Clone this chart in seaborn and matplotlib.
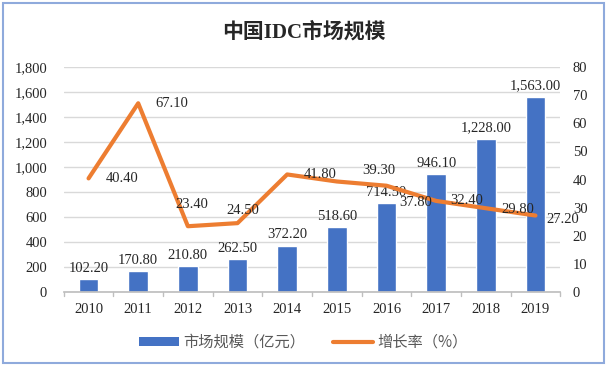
import matplotlib
matplotlib.use("Agg")
import matplotlib.pyplot as plt
import seaborn as sns
import numpy as np
import pandas as pd
from matplotlib.patches import Rectangle, Patch
from matplotlib.lines import Line2D

years = ["2010", "2011", "2012", "2013", "2014", "2015", "2016", "2017", "2018", "2019"]
market = [102.2, 170.8, 210.8, 262.5, 372.2, 518.6, 714.5, 946.1, 1228.0, 1563.0]
growth = [40.4, 67.1, 23.4, 24.5, 41.8, 39.3, 37.8, 32.4, 29.8, 27.2]
left_ticks = list(range(0, 1801, 200))
right_ticks = list(range(0, 81, 10))
title = "中国IDC市场规模"
bar_name = "市场规模（亿元）"
line_name = "增长率（%）"

# label offsets (points) for growth labels
g_off = [(24, 0), (24, 0), (3, 16), (4, 9), (24, 0), (30, 8), (21, -12), (22, 0), (23, -1), (20, -3)]

sns.set_theme(style="white")
plt.rcParams['font.family'] = ['Liberation Serif', 'Noto Sans CJK SC', 'DejaVu Sans']

blue = "#4472C4"
orange = "#ED7D31"

fig = plt.figure(figsize=(6.07, 3.66), dpi=100)
ax = fig.add_axes([0.105, 0.202, 0.818, 0.615])
df = pd.DataFrame({"year": years, "market": market, "growth": growth})
sns.barplot(data=df, x="year", y="market", color=blue, width=0.4, ax=ax, saturation=1)
ax.set_ylim(0, 1800)
ax.set_yticks(left_ticks)
ax.set_yticklabels([f"{t:,}" for t in left_ticks], fontsize=10.5)
ax.set_xlim(-0.5, len(years) - 0.5)
ax.set_xlabel("")
ax.set_ylabel("")
ax.grid(axis="y", color="#D9D9D9", lw=1)
ax.set_axisbelow(True)
for s in ["left", "right", "top"]:
    ax.spines[s].set_visible(False)
ax.spines["bottom"].set_color("#BFBFBF")
ax.tick_params(axis="x", length=0, labelsize=10.5, pad=8)
ax.tick_params(axis="y", length=0, pad=12)
for b in np.arange(-0.5, len(years), 1.0):
    ax.plot([b, b], [0, -0.018], transform=ax.get_xaxis_transform(), color="#BFBFBF", lw=1, clip_on=False)
for i, v in enumerate(market):
    ax.annotate(f"{v:,.2f}", (i, v), xytext=(0, 3), textcoords="offset points",
                ha="center", va="bottom", fontsize=10.5)

ax2 = ax.twinx()
sns.lineplot(x=list(range(len(years))), y=growth, color=orange, lw=3, ax=ax2)
ax2.set_ylim(0, 80)
ax2.set_yticks(right_ticks)
ax2.set_yticklabels([str(t) for t in right_ticks], fontsize=10.5)
ax2.tick_params(axis="y", length=0, pad=9)
for s in ["left", "right", "top", "bottom"]:
    ax2.spines[s].set_visible(False)
ax2.grid(False)
for i, v in enumerate(growth):
    dx, dy = g_off[i]
    ax2.annotate(f"{v:.2f}", (i, v), xytext=(dx, dy), textcoords="offset points",
                 ha="center", va="center", fontsize=10.5)

fig.text(0.5, 0.912, title, ha="center", va="center", fontsize=15, fontweight="bold")

handles = [Patch(facecolor=blue, edgecolor="none"), Line2D([0], [0], color=orange, lw=3)]
leg = fig.legend(handles, [bar_name, line_name], loc="center", bbox_to_anchor=(0.5, 0.065),
                 ncol=2, frameon=False, handlelength=2.6, handleheight=0.5,
                 handletextpad=0.3, columnspacing=1.8,
                 prop={"family": ["Noto Sans CJK SC"], "size": 11})
for t in leg.get_texts():
    t.set_color("#595959")

fig.patches.append(Rectangle((0.005, 0.008), 0.99, 0.984, transform=fig.transFigure,
                             fill=False, edgecolor="#8FAADC", lw=1.5))
fig.savefig("out.png", dpi=100)
